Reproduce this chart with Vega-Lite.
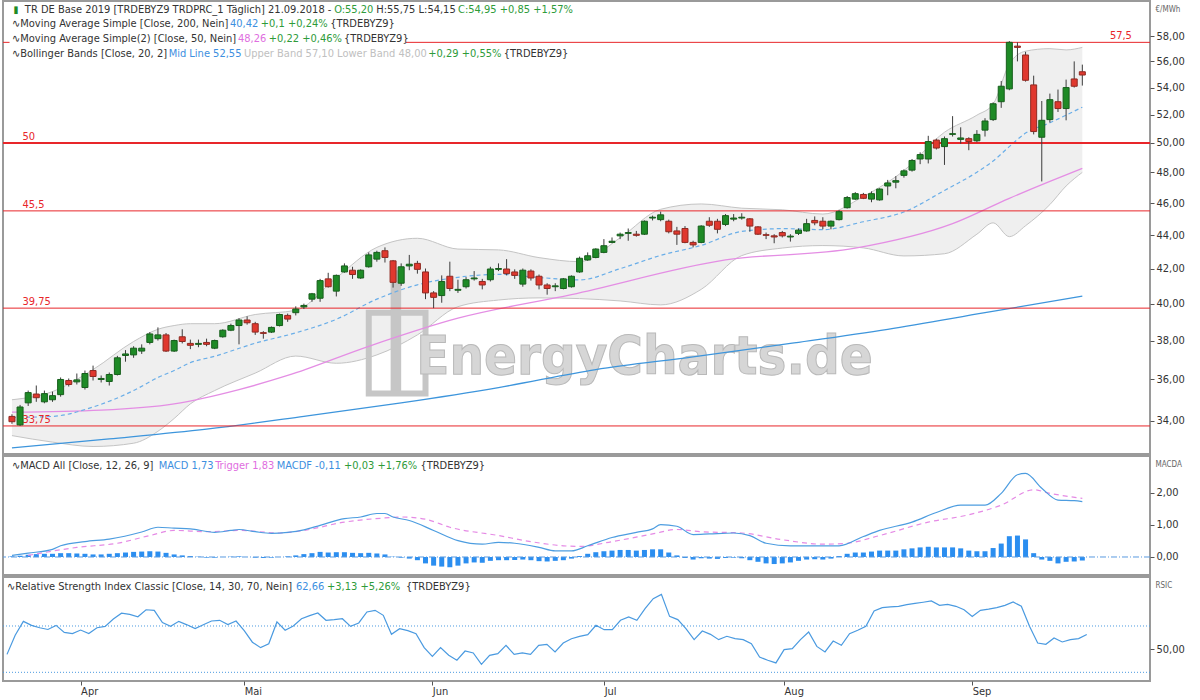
{
"$schema":"https://vega.github.io/schema/vega-lite/v6.json",
"padding":0,
"autosize":{"type":"pad"},
"background":"white",
"config":{
 "font":"'DejaVu Sans Condensed','DejaVu Sans',sans-serif",
 "view":{"stroke":"#9a9a9a","strokeWidth":2},
 "axis":{"grid":false,"domain":false,"labelFont":"'DejaVu Sans Condensed','DejaVu Sans',sans-serif","labelFontSize":11,"labelColor":"#333333","tickColor":"#555555","tickSize":4,"labelOverlap":false},
 "text":{"font":"'DejaVu Sans Condensed','DejaVu Sans',sans-serif","fontSize":11},
 "concat":{"spacing":0}
},
"datasets":{
"candles":[{"i":0,"o":34.2,"h":34.3,"l":33.85,"c":33.95},{"i":1,"o":33.8,"h":34.75,"l":33.75,"c":34.65},{"i":2,"o":34.85,"h":35.45,"l":34.7,"c":35.35},{"i":3,"o":35.28,"h":35.7,"l":34.9,"c":35.1},{"i":4,"o":34.9,"h":35.45,"l":34.83,"c":35.3},{"i":5,"o":35.0,"h":35.4,"l":34.9,"c":35.2},{"i":6,"o":35.25,"h":36.1,"l":35.15,"c":36.0},{"i":7,"o":35.95,"h":36.05,"l":35.65,"c":35.75},{"i":8,"o":35.88,"h":36.3,"l":35.75,"c":35.98},{"i":9,"o":35.6,"h":36.45,"l":35.5,"c":36.3},{"i":10,"o":36.45,"h":36.7,"l":35.95,"c":36.15},{"i":11,"o":36.0,"h":36.2,"l":35.85,"c":36.05},{"i":12,"o":35.9,"h":36.35,"l":35.7,"c":36.25},{"i":13,"o":36.25,"h":37.2,"l":36.2,"c":37.1},{"i":14,"o":37.22,"h":37.5,"l":36.9,"c":37.3},{"i":15,"o":37.25,"h":37.7,"l":37.1,"c":37.6},{"i":16,"o":37.45,"h":37.8,"l":37.3,"c":37.6},{"i":17,"o":37.9,"h":38.45,"l":37.8,"c":38.35},{"i":18,"o":38.1,"h":38.7,"l":38.0,"c":38.3},{"i":19,"o":38.3,"h":38.4,"l":37.4,"c":37.45},{"i":20,"o":37.45,"h":38.05,"l":37.4,"c":38.0},{"i":21,"o":38.2,"h":38.6,"l":37.85,"c":37.95},{"i":22,"o":37.85,"h":38.05,"l":37.55,"c":37.75},{"i":23,"o":37.8,"h":38.05,"l":37.65,"c":37.85},{"i":24,"o":37.9,"h":38.1,"l":37.7,"c":37.8},{"i":25,"o":37.6,"h":38.05,"l":37.55,"c":38.0},{"i":26,"o":38.2,"h":38.6,"l":38.15,"c":38.55},{"i":27,"o":38.55,"h":38.9,"l":38.5,"c":38.8},{"i":28,"o":38.8,"h":39.2,"l":37.8,"c":39.1},{"i":29,"o":39.1,"h":39.3,"l":38.85,"c":38.95},{"i":30,"o":38.9,"h":39.0,"l":38.3,"c":38.45},{"i":31,"o":38.42,"h":38.5,"l":38.1,"c":38.38},{"i":32,"o":38.45,"h":38.75,"l":38.4,"c":38.7},{"i":33,"o":38.8,"h":39.45,"l":38.75,"c":39.4},{"i":34,"o":39.35,"h":39.45,"l":39.0,"c":39.15},{"i":35,"o":39.5,"h":39.85,"l":39.35,"c":39.7},{"i":36,"o":39.82,"h":40.0,"l":39.7,"c":39.9},{"i":37,"o":40.25,"h":40.6,"l":40.1,"c":40.55},{"i":38,"o":40.3,"h":41.4,"l":40.1,"c":41.3},{"i":39,"o":41.4,"h":41.75,"l":40.9,"c":40.95},{"i":40,"o":40.7,"h":41.65,"l":40.4,"c":41.6},{"i":41,"o":41.8,"h":42.3,"l":41.75,"c":42.15},{"i":42,"o":41.9,"h":42.1,"l":41.4,"c":41.65},{"i":43,"o":41.45,"h":41.95,"l":41.4,"c":41.9},{"i":44,"o":42.1,"h":42.95,"l":42.05,"c":42.8},{"i":45,"o":42.55,"h":43.05,"l":42.4,"c":42.95},{"i":46,"o":43.05,"h":43.25,"l":42.35,"c":42.65},{"i":47,"o":42.45,"h":42.5,"l":40.9,"c":41.2},{"i":48,"o":41.15,"h":42.3,"l":41.0,"c":42.1},{"i":49,"o":42.15,"h":42.8,"l":41.9,"c":42.25},{"i":50,"o":42.3,"h":42.45,"l":41.7,"c":41.95},{"i":51,"o":41.8,"h":42.0,"l":40.25,"c":40.6},{"i":52,"o":40.6,"h":40.7,"l":39.75,"c":40.35},{"i":53,"o":40.45,"h":41.6,"l":40.05,"c":41.25},{"i":54,"o":41.55,"h":42.4,"l":40.7,"c":40.85},{"i":55,"o":40.75,"h":41.35,"l":40.6,"c":40.8},{"i":56,"o":40.95,"h":41.5,"l":40.85,"c":41.35},{"i":57,"o":41.4,"h":41.85,"l":41.3,"c":41.45},{"i":58,"o":41.25,"h":41.4,"l":40.8,"c":41.05},{"i":59,"o":41.35,"h":42.1,"l":41.25,"c":41.97},{"i":60,"o":41.95,"h":42.3,"l":41.85,"c":42.0},{"i":61,"o":41.97,"h":42.55,"l":41.6,"c":41.7},{"i":62,"o":41.8,"h":41.95,"l":41.4,"c":41.6},{"i":63,"o":41.1,"h":42.0,"l":40.95,"c":41.9},{"i":64,"o":41.85,"h":41.95,"l":41.3,"c":41.45},{"i":65,"o":41.55,"h":41.65,"l":40.8,"c":41.05},{"i":66,"o":41.05,"h":41.15,"l":40.5,"c":40.85},{"i":67,"o":40.95,"h":41.15,"l":40.7,"c":41.0},{"i":68,"o":40.85,"h":41.45,"l":40.8,"c":41.4},{"i":69,"o":40.95,"h":41.6,"l":40.9,"c":41.55},{"i":70,"o":41.8,"h":42.7,"l":41.75,"c":42.6},{"i":71,"o":42.5,"h":42.95,"l":42.45,"c":42.75},{"i":72,"o":42.65,"h":43.2,"l":42.6,"c":43.15},{"i":73,"o":42.95,"h":43.75,"l":42.9,"c":43.35},{"i":74,"o":43.55,"h":43.85,"l":43.5,"c":43.62},{"i":75,"o":43.95,"h":44.15,"l":43.75,"c":44.05},{"i":76,"o":44.1,"h":44.4,"l":43.65,"c":44.15},{"i":77,"o":44.05,"h":44.25,"l":43.9,"c":43.98},{"i":78,"o":44.05,"h":44.9,"l":44.0,"c":44.85},{"i":79,"o":45.05,"h":45.2,"l":44.9,"c":45.1},{"i":80,"o":44.95,"h":45.45,"l":44.85,"c":45.25},{"i":81,"o":44.85,"h":44.95,"l":44.1,"c":44.2},{"i":82,"o":44.25,"h":44.5,"l":43.4,"c":44.05},{"i":83,"o":44.4,"h":44.55,"l":43.5,"c":43.55},{"i":84,"o":43.55,"h":43.65,"l":43.25,"c":43.4},{"i":85,"o":43.55,"h":44.6,"l":43.5,"c":44.55},{"i":86,"o":44.85,"h":45.1,"l":44.5,"c":44.6},{"i":87,"o":44.85,"h":45.0,"l":44.1,"c":44.35},{"i":88,"o":44.65,"h":45.3,"l":44.55,"c":45.2},{"i":89,"o":44.98,"h":45.3,"l":44.85,"c":45.05},{"i":90,"o":45.05,"h":45.35,"l":44.95,"c":45.1},{"i":91,"o":45.0,"h":45.05,"l":44.2,"c":44.55},{"i":92,"o":44.5,"h":44.55,"l":44.0,"c":44.05},{"i":93,"o":44.02,"h":44.15,"l":43.75,"c":43.98},{"i":94,"o":43.95,"h":44.05,"l":43.5,"c":43.88},{"i":95,"o":44.15,"h":44.25,"l":43.85,"c":43.95},{"i":96,"o":43.88,"h":44.05,"l":43.6,"c":43.93},{"i":97,"o":44.1,"h":44.4,"l":44.0,"c":44.3},{"i":98,"o":44.25,"h":45.0,"l":44.2,"c":44.7},{"i":99,"o":44.9,"h":45.15,"l":44.6,"c":44.75},{"i":100,"o":44.85,"h":45.1,"l":44.35,"c":44.55},{"i":101,"o":44.55,"h":44.9,"l":44.35,"c":44.85},{"i":102,"o":44.95,"h":45.55,"l":44.9,"c":45.45},{"i":103,"o":45.7,"h":46.45,"l":45.65,"c":46.35},{"i":104,"o":46.25,"h":46.7,"l":46.2,"c":46.6},{"i":105,"o":46.55,"h":46.65,"l":46.25,"c":46.3},{"i":106,"o":46.25,"h":46.75,"l":46.05,"c":46.6},{"i":107,"o":46.2,"h":46.95,"l":46.15,"c":46.9},{"i":108,"o":47.1,"h":47.5,"l":46.5,"c":47.3},{"i":109,"o":47.35,"h":47.75,"l":46.95,"c":47.45},{"i":110,"o":47.8,"h":48.2,"l":47.65,"c":48.1},{"i":111,"o":48.15,"h":48.9,"l":48.05,"c":48.8},{"i":112,"o":48.9,"h":49.35,"l":48.55,"c":49.2},{"i":113,"o":48.9,"h":50.5,"l":48.6,"c":50.1},{"i":114,"o":50.2,"h":50.3,"l":49.55,"c":49.65},{"i":115,"o":49.75,"h":50.45,"l":48.5,"c":50.3},{"i":116,"o":50.6,"h":51.9,"l":50.45,"c":50.65},{"i":117,"o":50.25,"h":51.1,"l":49.95,"c":50.35},{"i":118,"o":50.3,"h":50.4,"l":49.5,"c":50.1},{"i":119,"o":50.15,"h":50.9,"l":50.05,"c":50.6},{"i":120,"o":50.9,"h":51.75,"l":50.45,"c":51.55},{"i":121,"o":51.65,"h":52.9,"l":51.55,"c":52.8},{"i":122,"o":52.95,"h":54.5,"l":52.5,"c":54.1},{"i":123,"o":53.9,"h":57.6,"l":53.8,"c":57.5},{"i":124,"o":57.2,"h":57.5,"l":56.0,"c":57.1},{"i":125,"o":56.5,"h":56.75,"l":54.45,"c":54.55},{"i":126,"o":54.2,"h":54.9,"l":50.6,"c":50.8},{"i":127,"o":50.4,"h":53.0,"l":47.4,"c":51.6},{"i":128,"o":51.65,"h":53.55,"l":51.45,"c":53.1},{"i":129,"o":52.95,"h":53.85,"l":52.2,"c":52.45},{"i":130,"o":52.45,"h":54.6,"l":51.6,"c":54.0},{"i":131,"o":54.65,"h":56.0,"l":54.0,"c":54.1},{"i":132,"o":55.2,"h":55.75,"l":54.15,"c":54.95}],
"boll":[{"i":0,"lo":33.3,"mid":34.15,"up":35.0},{"i":5,"lo":33.0,"mid":34.2,"up":35.4},{"i":10,"lo":32.8,"mid":34.65,"up":36.5},{"i":15,"lo":32.95,"mid":35.45,"up":37.95},{"i":18,"lo":33.5,"mid":36.1,"up":38.6},{"i":20,"lo":34.1,"mid":36.45,"up":38.8},{"i":22,"lo":34.8,"mid":36.85,"up":38.9},{"i":25,"lo":35.45,"mid":37.18,"up":38.9},{"i":30,"lo":36.32,"mid":37.86,"up":39.4},{"i":35,"lo":37.19,"mid":38.41,"up":39.63},{"i":40,"lo":36.82,"mid":39.14,"up":41.46},{"i":45,"lo":37.25,"mid":40.25,"up":43.25},{"i":50,"lo":38.3,"mid":41.06,"up":43.8},{"i":55,"lo":39.83,"mid":41.49,"up":43.15},{"i":60,"lo":40.2,"mid":41.66,"up":43.1},{"i":65,"lo":40.32,"mid":41.48,"up":42.64},{"i":70,"lo":40.28,"mid":41.34,"up":42.4},{"i":75,"lo":40.15,"mid":41.99,"up":43.83},{"i":80,"lo":39.93,"mid":42.77,"up":45.6},{"i":85,"lo":40.8,"mid":43.37,"up":45.94},{"i":90,"lo":42.76,"mid":44.22,"up":45.67},{"i":95,"lo":43.21,"mid":44.39,"up":45.57},{"i":100,"lo":43.36,"mid":44.33,"up":45.3},{"i":105,"lo":43.22,"mid":44.82,"up":46.42},{"i":110,"lo":42.74,"mid":45.43,"up":48.12},{"i":115,"lo":42.87,"mid":46.81,"up":50.75},{"i":119,"lo":44.05,"mid":48.01,"up":51.97},{"i":121,"lo":44.75,"mid":48.76,"up":52.77},{"i":123,"lo":43.9,"mid":49.75,"up":55.8},{"i":125,"lo":44.57,"mid":50.69,"up":56.8},{"i":128,"lo":45.9,"mid":51.42,"up":57.0},{"i":130,"lo":47.1,"mid":51.97,"up":56.9},{"i":132,"lo":48.0,"mid":52.55,"up":57.1}],
"sma200":[{"i":0,"v":32.74},{"i":12,"v":33.15},{"i":24,"v":33.6},{"i":36,"v":34.2},{"i":48,"v":34.85},{"i":60,"v":35.6},{"i":72,"v":36.5},{"i":84,"v":37.15},{"i":96,"v":37.85},{"i":108,"v":38.6},{"i":120,"v":39.5},{"i":132,"v":40.42}],
"sma50":[{"i":0,"v":34.4},{"i":11,"v":34.5},{"i":20,"v":34.8},{"i":28,"v":35.5},{"i":34,"v":36.2},{"i":44,"v":37.7},{"i":55,"v":39.2},{"i":69,"v":40.5},{"i":88,"v":42.5},{"i":104,"v":43.2},{"i":116,"v":44.7},{"i":123,"v":46.3},{"i":128,"v":47.4},{"i":132,"v":48.26}],
"macd":[{"i":0,"v":0.05},{"i":2,"v":0.12},{"i":5,"v":0.24},{"i":6,"v":0.35},{"i":9,"v":0.48},{"i":12,"v":0.56},{"i":16,"v":0.78},{"i":18,"v":0.93},{"i":20,"v":0.9},{"i":22,"v":0.88},{"i":25,"v":0.77},{"i":27,"v":0.83},{"i":28,"v":0.86},{"i":30,"v":0.79},{"i":32,"v":0.74},{"i":34,"v":0.77},{"i":36,"v":0.85},{"i":38,"v":0.99},{"i":41,"v":1.2},{"i":43,"v":1.25},{"i":45,"v":1.36},{"i":46,"v":1.36},{"i":47,"v":1.25},{"i":49,"v":1.14},{"i":52,"v":0.83},{"i":55,"v":0.51},{"i":58,"v":0.4},{"i":60,"v":0.46},{"i":62,"v":0.43},{"i":65,"v":0.3},{"i":67,"v":0.19},{"i":69,"v":0.19},{"i":71,"v":0.35},{"i":74,"v":0.61},{"i":77,"v":0.77},{"i":79,"v":0.88},{"i":80,"v":1.01},{"i":82,"v":0.96},{"i":84,"v":0.7},{"i":86,"v":0.72},{"i":89,"v":0.75},{"i":91,"v":0.67},{"i":93,"v":0.43},{"i":96,"v":0.35},{"i":99,"v":0.35},{"i":102,"v":0.35},{"i":105,"v":0.64},{"i":107,"v":0.83},{"i":111,"v":1.09},{"i":114,"v":1.39},{"i":117,"v":1.62},{"i":120,"v":1.62},{"i":122,"v":1.99},{"i":124,"v":2.57},{"i":125,"v":2.61},{"i":127,"v":2.15},{"i":129,"v":1.78},{"i":131,"v":1.76},{"i":132,"v":1.73}],
"trig":[{"i":2,"v":0.05},{"i":8,"v":0.3},{"i":13,"v":0.43},{"i":17,"v":0.67},{"i":20,"v":0.83},{"i":24,"v":0.79},{"i":28,"v":0.83},{"i":33,"v":0.75},{"i":36,"v":0.83},{"i":41,"v":1.09},{"i":46,"v":1.22},{"i":48,"v":1.25},{"i":51,"v":1.18},{"i":54,"v":0.93},{"i":60,"v":0.67},{"i":64,"v":0.48},{"i":68,"v":0.35},{"i":70,"v":0.33},{"i":74,"v":0.48},{"i":79,"v":0.72},{"i":82,"v":0.86},{"i":85,"v":0.79},{"i":90,"v":0.75},{"i":95,"v":0.54},{"i":100,"v":0.4},{"i":103,"v":0.43},{"i":107,"v":0.67},{"i":113,"v":1.09},{"i":118,"v":1.32},{"i":122,"v":1.62},{"i":126,"v":2.1},{"i":128,"v":1.99},{"i":132,"v":1.83}],
"ind":[{"i":0,"h":0.02,"r":45.5},{"i":1,"h":0.04,"r":62},{"i":2,"h":0.07,"r":74},{"i":3,"h":0.09,"r":70.5},{"i":4,"h":0.1,"r":68.5},{"i":5,"h":0.1,"r":67},{"i":6,"h":0.12,"r":70.5},{"i":7,"h":0.12,"r":64.5},{"i":8,"h":0.11,"r":63.5},{"i":9,"h":0.1,"r":66.5},{"i":10,"h":0.08,"r":63.5},{"i":11,"h":0.08,"r":68.5},{"i":12,"h":0.1,"r":69.7},{"i":13,"h":0.12,"r":76},{"i":14,"h":0.14,"r":81},{"i":15,"h":0.16,"r":80},{"i":16,"h":0.17,"r":78},{"i":17,"h":0.18,"r":84},{"i":18,"h":0.17,"r":83.5},{"i":19,"h":0.13,"r":73},{"i":20,"h":0.08,"r":69.7},{"i":21,"h":0.05,"r":74},{"i":22,"h":0.03,"r":71},{"i":23,"h":0.01,"r":67.7},{"i":24,"h":-0.02,"r":71},{"i":25,"h":-0.02,"r":74.3},{"i":26,"h":0.0,"r":74.9},{"i":27,"h":0.01,"r":71.2},{"i":28,"h":0.02,"r":74.3},{"i":29,"h":0.0,"r":66},{"i":30,"h":-0.02,"r":56},{"i":31,"h":-0.03,"r":51.3},{"i":32,"h":-0.02,"r":54.7},{"i":33,"h":0.0,"r":73.5},{"i":34,"h":0.02,"r":66.3},{"i":35,"h":0.05,"r":70},{"i":36,"h":0.09,"r":76.3},{"i":37,"h":0.12,"r":79},{"i":38,"h":0.16,"r":81.2},{"i":39,"h":0.14,"r":74.9},{"i":40,"h":0.15,"r":75.5},{"i":41,"h":0.15,"r":76.3},{"i":42,"h":0.13,"r":69.7},{"i":43,"h":0.12,"r":72.6},{"i":44,"h":0.13,"r":82.1},{"i":45,"h":0.11,"r":83.5},{"i":46,"h":0.08,"r":79.2},{"i":47,"h":0.01,"r":62.8},{"i":48,"h":-0.02,"r":67.7},{"i":49,"h":-0.05,"r":66},{"i":50,"h":-0.1,"r":63.4},{"i":51,"h":-0.2,"r":51.3},{"i":52,"h":-0.27,"r":43.8},{"i":53,"h":-0.3,"r":51.3},{"i":54,"h":-0.32,"r":44.7},{"i":55,"h":-0.27,"r":40.4},{"i":56,"h":-0.2,"r":48.4},{"i":57,"h":-0.17,"r":46.7},{"i":58,"h":-0.18,"r":36.9},{"i":59,"h":-0.12,"r":44.7},{"i":60,"h":-0.1,"r":46.1},{"i":61,"h":-0.1,"r":53.3},{"i":62,"h":-0.09,"r":45.5},{"i":63,"h":-0.08,"r":46.7},{"i":64,"h":-0.1,"r":45.5},{"i":65,"h":-0.13,"r":53.3},{"i":66,"h":-0.14,"r":54.2},{"i":67,"h":-0.12,"r":47.6},{"i":68,"h":-0.1,"r":55.3},{"i":69,"h":-0.05,"r":59},{"i":70,"h":0.03,"r":61},{"i":71,"h":0.1,"r":62.5},{"i":72,"h":0.15,"r":70.6},{"i":73,"h":0.18,"r":66.8},{"i":74,"h":0.2,"r":66.8},{"i":75,"h":0.22,"r":74.9},{"i":76,"h":0.22,"r":77.8},{"i":77,"h":0.2,"r":74.9},{"i":78,"h":0.22,"r":85},{"i":79,"h":0.24,"r":93.6},{"i":80,"h":0.24,"r":97.3},{"i":81,"h":0.14,"r":78.3},{"i":82,"h":0.05,"r":75.5},{"i":83,"h":-0.03,"r":67.7},{"i":84,"h":-0.08,"r":58.2},{"i":85,"h":-0.04,"r":65.7},{"i":86,"h":-0.05,"r":62.8},{"i":87,"h":-0.06,"r":58.2},{"i":88,"h":-0.03,"r":61.1},{"i":89,"h":-0.02,"r":59.1},{"i":90,"h":-0.04,"r":58.2},{"i":91,"h":-0.1,"r":54.7},{"i":92,"h":-0.15,"r":43.2},{"i":93,"h":-0.2,"r":40.4},{"i":94,"h":-0.22,"r":38.1},{"i":95,"h":-0.2,"r":49.6},{"i":96,"h":-0.17,"r":50.4},{"i":97,"h":-0.12,"r":58.2},{"i":98,"h":-0.08,"r":64.8},{"i":99,"h":-0.07,"r":52.4},{"i":100,"h":-0.08,"r":47.6},{"i":101,"h":-0.05,"r":57},{"i":102,"h":0.03,"r":53.3},{"i":103,"h":0.1,"r":63.4},{"i":104,"h":0.14,"r":66.3},{"i":105,"h":0.14,"r":69.7},{"i":106,"h":0.17,"r":83},{"i":107,"h":0.2,"r":85.8},{"i":108,"h":0.2,"r":86.5},{"i":109,"h":0.2,"r":87},{"i":110,"h":0.24,"r":88.5},{"i":111,"h":0.27,"r":89.5},{"i":112,"h":0.3,"r":90.5},{"i":113,"h":0.32,"r":91.6},{"i":114,"h":0.3,"r":87.8},{"i":115,"h":0.3,"r":88.7},{"i":116,"h":0.3,"r":87},{"i":117,"h":0.27,"r":84},{"i":118,"h":0.2,"r":78.3},{"i":119,"h":0.18,"r":83.5},{"i":120,"h":0.18,"r":84.5},{"i":121,"h":0.28,"r":85.8},{"i":122,"h":0.42,"r":87.8},{"i":123,"h":0.65,"r":90.7},{"i":124,"h":0.67,"r":87},{"i":125,"h":0.55,"r":69.7},{"i":126,"h":0.12,"r":55.3},{"i":127,"h":-0.08,"r":54.2},{"i":128,"h":-0.12,"r":59.6},{"i":129,"h":-0.2,"r":56.2},{"i":130,"h":-0.15,"r":58.2},{"i":131,"h":-0.14,"r":59.1},{"i":132,"h":-0.11,"r":62.66}]
},
"vconcat":[
{
 "width":1147,"height":453,
 "layer":[
  {"data":{"name":"boll"},"mark":{"type":"area","color":"#efefef","interpolate":"monotone"},
   "encoding":{"x":{"field":"i","type":"quantitative","scale":{"domain":[-0.489,139.73],"nice":false,"zero":false},"axis":null},
    "y":{"field":"lo","type":"quantitative","scale":{"type":"log","domain":[32.46,60.9],"nice":false,"zero":false},
      "axis":{"orient":"right","values":[34,36,38,40,42,44,46,48,50,52,54,56,58],"labelExpr":"replace(format(datum.value,'.2f'),'.',',')","title":"€/MWh","titleAngle":0,"titleX":5,"titleY":8,"titleAlign":"left","titleBaseline":"middle","titleFontSize":8,"titleFontWeight":"normal","titleColor":"#666666","labelPadding":2}},
    "y2":{"field":"up"}}},
  {"data":{"name":"boll"},"mark":{"type":"line","color":"#c4c4c4","strokeWidth":1,"interpolate":"monotone"},"encoding":{"x":{"field":"i","type":"quantitative"},"y":{"field":"up","type":"quantitative"}}},
  {"data":{"name":"boll"},"mark":{"type":"line","color":"#c4c4c4","strokeWidth":1,"interpolate":"monotone"},"encoding":{"x":{"field":"i","type":"quantitative"},"y":{"field":"lo","type":"quantitative"}}},
  {"data":{"values":[{}]},"layer":[
    {"mark":{"type":"rect","fill":null,"stroke":"#c6c6c6","strokeWidth":6},"encoding":{"x":{"datum":44.0},"x2":{"datum":51.0},"y":{"datum":35.3},"y2":{"datum":39.5}}},
    {"mark":{"type":"rect","color":"#c6c6c6"},"encoding":{"x":{"datum":46.7},"x2":{"datum":48.0},"y":{"datum":35.3},"y2":{"datum":41.9}}},
    {"mark":{"type":"text","text":"EnergyCharts.de","font":"'DejaVu Sans Condensed','DejaVu Sans',sans-serif","fontWeight":"bold","fontSize":54,"fill":"#d6d6d6","stroke":"#b9b9b9","strokeWidth":1,"align":"center","baseline":"middle"},
     "encoding":{"x":{"datum":78.0},"y":{"datum":37.1}}}
  ]},
  {"data":{"name":"sma200"},"mark":{"type":"line","color":"#3d95dc","strokeWidth":1.3,"interpolate":"monotone"},"encoding":{"x":{"field":"i","type":"quantitative"},"y":{"field":"v","type":"quantitative"}}},
  {"data":{"name":"sma50"},"mark":{"type":"line","color":"#e48ee4","strokeWidth":1.3,"interpolate":"monotone"},"encoding":{"x":{"field":"i","type":"quantitative"},"y":{"field":"v","type":"quantitative"}}},
  {"data":{"name":"boll"},"mark":{"type":"line","color":"#6aaee8","strokeWidth":1.2,"strokeDash":[4,3],"interpolate":"monotone"},"encoding":{"x":{"field":"i","type":"quantitative"},"y":{"field":"mid","type":"quantitative"}}},
  {"data":{"values":[{}]},"layer":[
    {"mark":{"type":"rule","color":"#e8262a","strokeWidth":1},"encoding":{"y":{"datum":57.5}}},
    {"mark":{"type":"rule","color":"#e8262a","strokeWidth":2.2},"encoding":{"y":{"datum":50}}},
    {"mark":{"type":"rule","color":"#e8262a","strokeWidth":1},"encoding":{"y":{"datum":45.5}}},
    {"mark":{"type":"rule","color":"#e8262a","strokeWidth":1},"encoding":{"y":{"datum":39.75}}},
    {"mark":{"type":"rule","color":"#e8262a","strokeWidth":1},"encoding":{"y":{"datum":33.75}}},
    {"mark":{"type":"rect","color":"white"},"encoding":{"x":{"datum":-0.3},"x2":{"datum":48.6},"y":{"datum":57.21},"y2":{"datum":58.25}}},
    {"mark":{"type":"text","text":"57,5","color":"#e8262a","align":"left","baseline":"bottom","dy":-1},"encoding":{"x":{"datum":135.4},"y":{"datum":57.5}}},
    {"mark":{"type":"text","text":"50","color":"#e8262a","align":"left","baseline":"bottom","dy":-1},"encoding":{"x":{"datum":1.3},"y":{"datum":50}}},
    {"mark":{"type":"text","text":"45,5","color":"#e8262a","align":"left","baseline":"bottom","dy":-1},"encoding":{"x":{"datum":1.3},"y":{"datum":45.5}}},
    {"mark":{"type":"text","text":"39,75","color":"#e8262a","align":"left","baseline":"bottom","dy":-1},"encoding":{"x":{"datum":1.3},"y":{"datum":39.75}}},
    {"mark":{"type":"text","text":"33,75","color":"#e8262a","align":"left","baseline":"bottom","dy":-1},"encoding":{"x":{"datum":1.3},"y":{"datum":33.75}}}
  ]},
  {"data":{"name":"candles"},"mark":{"type":"rule","color":"#3c3c3c","strokeWidth":1},
   "encoding":{"x":{"field":"i","type":"quantitative"},"y":{"field":"l","type":"quantitative"},"y2":{"field":"h"}}},
  {"data":{"name":"candles"},"mark":{"type":"bar","size":6,"strokeWidth":1},
   "encoding":{"x":{"field":"i","type":"quantitative"},"y":{"field":"o","type":"quantitative"},"y2":{"field":"c"},
    "fill":{"condition":{"test":"datum.c >= datum.o","value":"#1e8a26"},"value":"#e0382e"},
    "stroke":{"condition":{"test":"datum.c >= datum.o","value":"#175e1c"},"value":"#8e2a22"}}},
  {"data":{"values":[{}]},"layer":[
    {"mark":{"type":"text","text":"▮","color":"#1e8a26","align":"left","baseline":"middle","fontSize":10},"encoding":{"x":{"datum":0.2},"y":{"datum":60.14}}},
    {"mark":{"type":"text","text":"TR DE Base 2019 [TRDEBYZ9 TRDPRC_1 Täglich] 21.09.2018 -","color":"#333333","align":"left","baseline":"middle"},"encoding":{"x":{"datum":1.59},"y":{"datum":60.14}}},
    {"mark":{"type":"text","text":"O:55,20","color":"#2e9b3a","align":"left","baseline":"middle"},"encoding":{"x":{"datum":39.73},"y":{"datum":60.14}}},
    {"mark":{"type":"text","text":"H:55,75 L:54,15","color":"#333333","align":"left","baseline":"middle"},"encoding":{"x":{"datum":44.93},"y":{"datum":60.14}}},
    {"mark":{"type":"text","text":"C:54,95 +0,85 +1,57%","color":"#2e9b3a","align":"left","baseline":"middle"},"encoding":{"x":{"datum":55.01},"y":{"datum":60.14}}},
    {"mark":{"type":"text","text":"∿Moving Average Simple [Close, 200, Nein]","color":"#333333","align":"left","baseline":"middle"},"encoding":{"x":{"datum":0},"y":{"datum":58.98}}},
    {"mark":{"type":"text","text":"40,42","color":"#3d8fe0","align":"left","baseline":"middle"},"encoding":{"x":{"datum":26.89},"y":{"datum":58.98}}},
    {"mark":{"type":"text","text":"+0,1 +0,24%","color":"#2e9b3a","align":"left","baseline":"middle"},"encoding":{"x":{"datum":30.68},"y":{"datum":58.98}}},
    {"mark":{"type":"text","text":"{TRDEBYZ9}","color":"#333333","align":"left","baseline":"middle"},"encoding":{"x":{"datum":39.24},"y":{"datum":58.98}}},
    {"mark":{"type":"text","text":"∿Moving Average Simple(2) [Close, 50, Nein]","color":"#333333","align":"left","baseline":"middle"},"encoding":{"x":{"datum":0},"y":{"datum":57.77}}},
    {"mark":{"type":"text","text":"48,26","color":"#e06ee0","align":"left","baseline":"middle"},"encoding":{"x":{"datum":27.87},"y":{"datum":57.77}}},
    {"mark":{"type":"text","text":"+0,22 +0,46%","color":"#2e9b3a","align":"left","baseline":"middle"},"encoding":{"x":{"datum":31.66},"y":{"datum":57.77}}},
    {"mark":{"type":"text","text":"{TRDEBYZ9}","color":"#333333","align":"left","baseline":"middle"},"encoding":{"x":{"datum":40.95},"y":{"datum":57.77}}},
    {"mark":{"type":"text","text":"∿Bollinger Bands [Close, 20, 2]","color":"#333333","align":"left","baseline":"middle"},"encoding":{"x":{"datum":0},"y":{"datum":56.58}}},
    {"mark":{"type":"text","text":"Mid Line 52,55","color":"#3d8fe0","align":"left","baseline":"middle"},"encoding":{"x":{"datum":19.32},"y":{"datum":56.58}}},
    {"mark":{"type":"text","text":"Upper Band 57,10 Lower Band 48,00","color":"#c0c0c0","align":"left","baseline":"middle"},"encoding":{"x":{"datum":28.61},"y":{"datum":56.58}}},
    {"mark":{"type":"text","text":"+0,29 +0,55%","color":"#2e9b3a","align":"left","baseline":"middle"},"encoding":{"x":{"datum":51.34},"y":{"datum":56.58}}},
    {"mark":{"type":"text","text":"{TRDEBYZ9}","color":"#333333","align":"left","baseline":"middle"},"encoding":{"x":{"datum":60.64},"y":{"datum":56.58}}}
  ]}
 ]
},
{
 "width":1147,"height":119,
 "layer":[
  {"data":{"name":"ind"},"mark":{"type":"bar","size":5,"color":"#2b8ef0"},
   "encoding":{"x":{"field":"i","type":"quantitative","scale":{"domain":[-0.489,139.73],"nice":false,"zero":false},"axis":null},
    "y":{"field":"h","type":"quantitative","scale":{"domain":[-0.5625,3.156],"nice":false,"zero":false},
      "axis":{"orient":"right","values":[0,1,2],"labelExpr":"replace(format(datum.value,'.2f'),'.',',')","title":"MACDA","titleAngle":0,"titleX":5,"titleY":8,"titleAlign":"left","titleBaseline":"middle","titleFontSize":8,"titleFontWeight":"normal","titleColor":"#666666","labelPadding":2}}}},
  {"data":{"values":[{}]},"mark":{"type":"rule","color":"#5a9be0","strokeWidth":1,"strokeDash":[6,2,1,2]},"encoding":{"y":{"datum":0}}},
  {"data":{"name":"trig"},"mark":{"type":"line","color":"#e58ae5","strokeWidth":1.2,"strokeDash":[5,4],"interpolate":"monotone"},"encoding":{"x":{"field":"i","type":"quantitative"},"y":{"field":"v","type":"quantitative"}}},
  {"data":{"name":"macd"},"mark":{"type":"line","color":"#4d9de0","strokeWidth":1.2,"interpolate":"monotone"},"encoding":{"x":{"field":"i","type":"quantitative"},"y":{"field":"v","type":"quantitative"}}},
  {"data":{"values":[{}]},"layer":[
    {"mark":{"type":"text","text":"∿MACD All [Close, 12, 26, 9]","color":"#333333","align":"left","baseline":"middle"},"encoding":{"x":{"datum":0},"y":{"datum":2.84}}},
    {"mark":{"type":"text","text":"MACD 1,73","color":"#3d8fe0","align":"left","baseline":"middle"},"encoding":{"x":{"datum":18.09},"y":{"datum":2.84}}},
    {"mark":{"type":"text","text":"Trigger 1,83","color":"#e06ee0","align":"left","baseline":"middle"},"encoding":{"x":{"datum":25.06},"y":{"datum":2.84}}},
    {"mark":{"type":"text","text":"MACDF -0,11","color":"#3d8fe0","align":"left","baseline":"middle"},"encoding":{"x":{"datum":32.64},"y":{"datum":2.84}}},
    {"mark":{"type":"text","text":"+0,03 +1,76%","color":"#2e9b3a","align":"left","baseline":"middle"},"encoding":{"x":{"datum":40.95},"y":{"datum":2.84}}},
    {"mark":{"type":"text","text":"{TRDEBYZ9}","color":"#333333","align":"left","baseline":"middle"},"encoding":{"x":{"datum":50.37},"y":{"datum":2.84}}}
  ]}
 ]
},
{
 "width":1147,"height":104,
 "layer":[
  {"data":{"name":"ind"},"mark":{"type":"line","color":"#4a9ae0","strokeWidth":1.2},
   "encoding":{"x":{"field":"i","type":"quantitative","scale":{"domain":[-0.489,139.73],"nice":false,"zero":false},
      "axis":{"orient":"bottom","values":[9,29,52,73,95,118],"labelExpr":"datum.value==9?'Apr':datum.value==29?'Mai':datum.value==52?'Jun':datum.value==73?'Jul':datum.value==95?'Aug':'Sep'","labelAlign":"left","labelBaseline":"top","labelPadding":0,"labelDx":1,"tickSize":4,"title":null}},
    "y":{"field":"r","type":"quantitative","scale":{"domain":[22.5,112.3],"nice":false,"zero":false},
      "axis":{"orient":"right","values":[50],"labelExpr":"replace(format(datum.value,'.2f'),'.',',')","title":"RSIC","titleAngle":0,"titleX":5,"titleY":8,"titleAlign":"left","titleBaseline":"middle","titleFontSize":8,"titleFontWeight":"normal","titleColor":"#666666","labelPadding":2}}}},
  {"data":{"values":[{}]},"layer":[
    {"mark":{"type":"rule","color":"#4a9ae0","strokeWidth":1,"strokeDash":[1,2]},"encoding":{"y":{"datum":70}}},
    {"mark":{"type":"rule","color":"#4a9ae0","strokeWidth":1,"strokeDash":[1,2]},"encoding":{"y":{"datum":30}}},
    {"mark":{"type":"text","text":"∿Relative Strength Index Classic [Close, 14, 30, 70, Nein]","color":"#333333","align":"left","baseline":"middle"},"encoding":{"x":{"datum":0},"y":{"datum":103.7}}},
    {"mark":{"type":"text","text":"62,66","color":"#3d8fe0","align":"left","baseline":"middle"},"encoding":{"x":{"datum":35.33},"y":{"datum":103.7}}},
    {"mark":{"type":"text","text":"+3,13 +5,26%","color":"#2e9b3a","align":"left","baseline":"middle"},"encoding":{"x":{"datum":39.12},"y":{"datum":103.7}}},
    {"mark":{"type":"text","text":"{TRDEBYZ9}","color":"#333333","align":"left","baseline":"middle"},"encoding":{"x":{"datum":48.78},"y":{"datum":103.7}}}
  ]}
 ]
}
]
}
